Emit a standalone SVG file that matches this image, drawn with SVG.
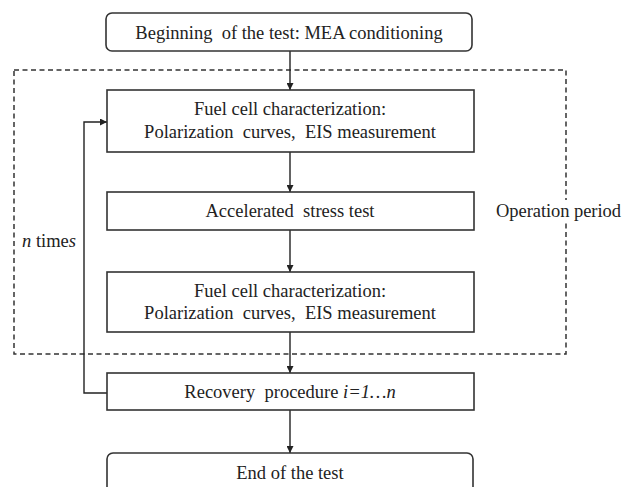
<svg xmlns="http://www.w3.org/2000/svg" width="624" height="487" viewBox="0 0 624 487">
<defs>
<style>
.box{fill:#fff;stroke:#333;stroke-width:1.6}
.dash{fill:none;stroke:#333;stroke-width:1.5;stroke-dasharray:5,3.5}
.ln{fill:none;stroke:#222;stroke-width:1.4}
text{font-family:"Liberation Serif","Times New Roman",serif;font-size:18.5px;fill:#222}
.c{text-anchor:middle}
</style>
<marker id="ah" viewBox="0 0 10 10" refX="10" refY="5" markerWidth="7" markerHeight="7" markerUnits="userSpaceOnUse" orient="auto">
<path d="M0,0 L10,5 L0,10 z" fill="#222"/>
</marker>
</defs>
<rect width="624" height="487" fill="#fff"/>
<rect class="dash" x="14" y="70" width="552" height="284"/>
<g id="connectors">
<line class="ln" x1="290" y1="51" x2="290" y2="90" marker-end="url(#ah)"/>
<line class="ln" x1="290" y1="152" x2="290" y2="192" marker-end="url(#ah)"/>
<line class="ln" x1="290" y1="230" x2="290" y2="272" marker-end="url(#ah)"/>
<line class="ln" x1="290" y1="332" x2="290" y2="373" marker-end="url(#ah)"/>
<line class="ln" x1="290" y1="410" x2="290" y2="453" marker-end="url(#ah)"/>
<polyline class="ln" points="107,393 84,393 84,122 107,122" marker-end="url(#ah)"/>
</g>
<g id="begin">
<rect class="box" x="106" y="13" width="366" height="38" rx="6"/>
<text class="c" x="289" y="39" xml:space="preserve">Beginning  of the test: MEA conditioning</text>
</g>
<g id="char1">
<rect class="box" x="107" y="90" width="367" height="62"/>
<text class="c" x="290" y="115">Fuel cell characterization:</text>
<text class="c" x="290" y="138" xml:space="preserve">Polarization  curves,  EIS measurement</text>
</g>
<g id="ast">
<rect class="box" x="107" y="192" width="367" height="38"/>
<text class="c" x="290" y="217" xml:space="preserve">Accelerated  stress test</text>
</g>
<g id="char2">
<rect class="box" x="107" y="272" width="367" height="60"/>
<text class="c" x="290" y="297">Fuel cell characterization:</text>
<text class="c" x="290" y="319" xml:space="preserve">Polarization  curves,  EIS measurement</text>
</g>
<g id="recovery">
<rect class="box" x="107" y="373" width="367" height="37"/>
<text class="c" x="290" y="398" xml:space="preserve">Recovery  procedure <tspan font-style="italic">i=1…n</tspan></text>
</g>
<g id="end">
<rect class="box" x="107" y="453" width="366" height="40" rx="6"/>
<text class="c" x="290" y="479">End of the test</text>
</g>
<g id="labels">
<text x="22" y="247"><tspan font-style="italic">n</tspan> time<tspan font-style="italic">s</tspan></text>
<rect x="495" y="200" width="129" height="23" fill="#fff"/>
<text x="496" y="217" textLength="125" lengthAdjust="spacing">Operation period</text>
</g>
</svg>
